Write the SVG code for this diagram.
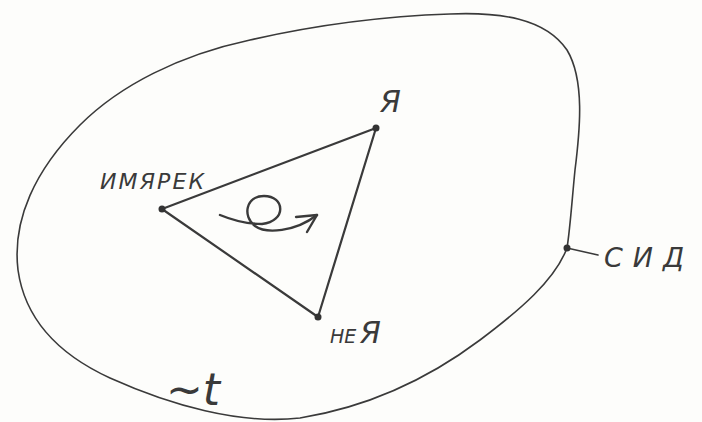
<svg xmlns="http://www.w3.org/2000/svg" width="702" height="422" viewBox="0 0 702 422">
<style>
.ln{fill:none;stroke:#3a3a3a;stroke-linecap:round;stroke-linejoin:round}
.t{font-family:"DejaVu Sans","Liberation Sans",sans-serif;font-style:italic;fill:#3a3a3a}
.dot{fill:#333}
</style>
<rect width="702" height="422" fill="#fdfdfb"/>
<g id="blob">
<path class="ln" stroke-width="1.6" d="M450,14 C500,12 545,18 567,50 C585,80 580,130 575,170 C572,200 570,230 567,248 C555,280 520,310 480,340 C440,370 380,405 300,418 C240,425 170,405 110,378 C60,355 25,320 18,270 C12,220 35,170 80,125 C120,85 180,55 250,40 C320,24 390,16 450,14 Z"/>
</g>
<g id="connectors">
<path class="ln" stroke-width="2.2" d="M162,209 L376,128 L318,317 Z"/>
<path class="ln" stroke-width="1.6" d="M567,248 L598,255"/>
<path class="ln" stroke-width="2.4" d="M220,215 C232,220 245,224 262,224 C287,221 285,196 264,196 C246,196 242,216 255,226 C266,234 295,232 317,215"/>
<path class="ln" stroke-width="2.4" d="M296,217 L317,215 L307,232"/>
</g>
<g id="n-imyarek">
<circle class="dot" cx="162" cy="209" r="3.5"/>
<text class="t" x="100" y="189" font-size="22" textLength="104">ИМЯРЕК</text>
</g>
<g id="n-ya">
<circle class="dot" cx="376" cy="128" r="3.5"/>
<text class="t" x="380" y="112" font-size="30">Я</text>
</g>
<g id="n-neya">
<circle class="dot" cx="318" cy="317" r="3.5"/>
<text class="t" x="330" y="343" font-size="19">НЕ</text>
<text class="t" x="360" y="343" font-size="30">Я</text>
</g>
<g id="n-sid">
<circle class="dot" cx="567" cy="248" r="3.5"/>
<text class="t" x="604" y="267" font-size="27" textLength="80">СИД</text>
</g>
<g id="time">
<text class="t" x="166" y="405" font-size="44">~t</text>
</g>
</svg>
